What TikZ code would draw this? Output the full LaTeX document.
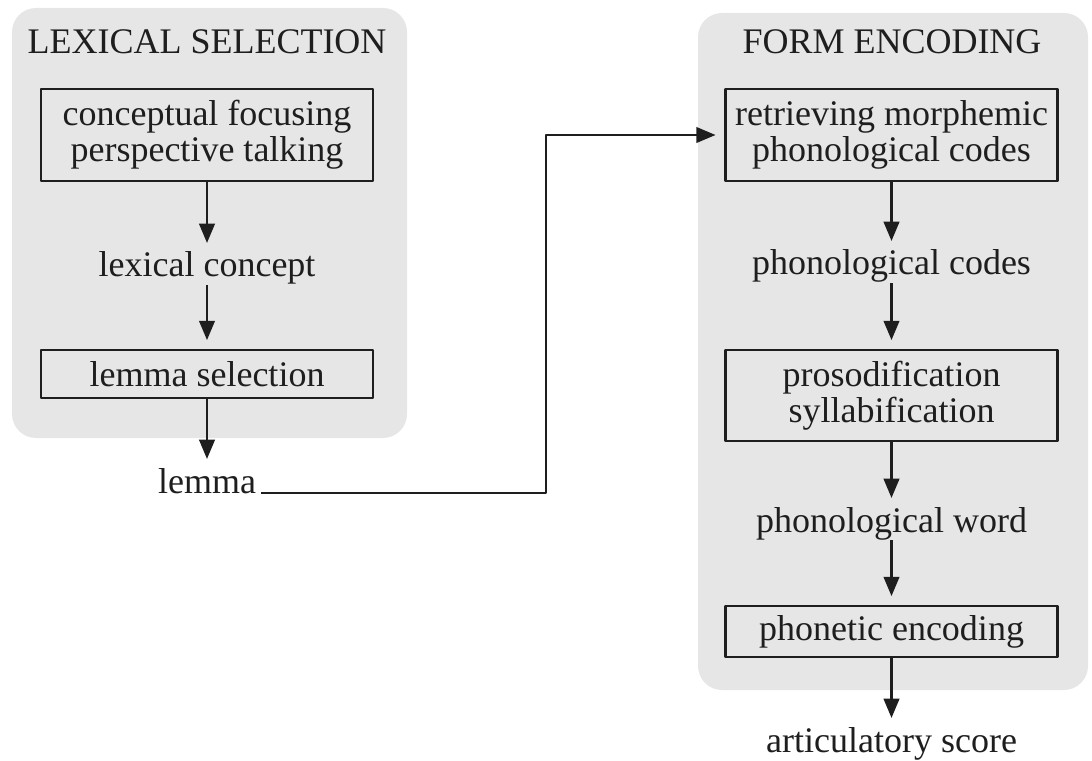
\documentclass[tikz,border=0pt]{standalone}
\usepackage{fontspec}
\setmainfont{Liberation Serif}
\usetikzlibrary{arrows.meta}
\definecolor{panelgray}{HTML}{E6E6E6}
\definecolor{inkgray}{HTML}{1E1E1E}
\begin{document}
\begin{tikzpicture}[x=0.025cm,y=-0.025cm,>={Triangle[length=4.8mm,width=3.9mm]},line join=round,
	font=\fontsize{25.6}{25.6}\selectfont,every node/.style={text=inkgray},
	panel/.style={fill=panelgray,rounded corners=0.6cm},
	stage/.style={draw=inkgray,line width=1.6pt,minimum width=8.3cm,align=center,inner sep=0pt},
	word/.style={inner sep=0pt,anchor=base},
	flow/.style={->,draw=inkgray,line width=1.5pt,shorten >=0.22cm}]
	\useasboundingbox (0,0) rectangle (1092,761);
	%Hai khung nền
	\fill[panel] (12,8) rectangle (407,438);
	\fill[panel] (698,13) rectangle (1088,690);
	%Lexical selection
	\node[word] (LT) at (207,54) {LEXICAL SELECTION};
	\node[stage,minimum height=2.3cm] (L1) at (207,135) {conceptual focusing\\perspective talking};
	\node[word] (LC) at (207,277) {lexical concept};
	\node[stage,minimum height=1.2cm] (L2) at (207,374) {lemma selection};
	\node[word] (LM) at (207,493) {lemma};
	%Form encoding
	\node[word] (RT) at (892,54) {FORM ENCODING};
	\node[stage,minimum height=2.3cm] (R1) at (891.5,135) {retrieving morphemic\\phonological codes};
	\node[word] (PC) at (891.5,275) {phonological codes};
	\node[stage,minimum height=2.275cm] (R2) at (891.5,395.5) {prosodification\\syllabification};
	\node[word] (PW) at (891.5,532) {phonological word};
	\node[stage,minimum height=1.275cm] (R3) at (891.5,631.5) {phonetic encoding};
	\node[word] (AS) at (891.5,752) {articulatory score};
	\coordinate (K) at (546,0);
	%Mũi tên
	\foreach \a/\b in {L1/LC,LC/L2,L2/LM,R1/PC,PC/R2,R2/PW,PW/R3,R3/AS}{
		\draw[flow] (\a.south) -- (\b.north);}
	\draw[flow] ([xshift=0.125cm]LM.base east) -| (K |- R1.west) -- (R1.west);
\end{tikzpicture}
\end{document}
